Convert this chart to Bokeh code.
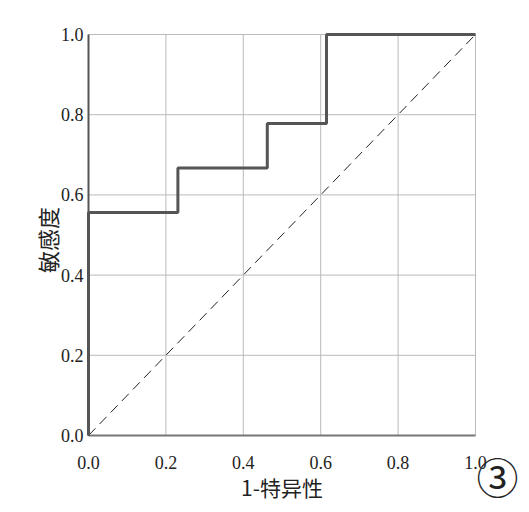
from math import pi

from bokeh.plotting import figure
from bokeh.models import Range1d
from bokeh.core.properties import value
from bokeh.embed import file_html
from bokeh.resources import INLINE

# ROC curve points
fpr = [0.0, 0.0, 0.231, 0.231, 0.462, 0.462, 0.615, 0.615, 1.0]
tpr = [0.0, 0.556, 0.556, 0.667, 0.667, 0.778, 0.778, 1.0, 1.0]
ref_x = [0.0, 1.0]
ref_y = [0.0, 1.0]
ticks = [0.0, 0.2, 0.4, 0.6, 0.8, 1.0]
tick_labels = [f"{t:.1f}" for t in ticks]
x_title = "1-特异性"
y_title = "敏感度"
panel_tag = "③"

serif = "Liberation Serif"
cjk = "Noto Sans CJK SC"

# canvas and plot box in pixels; axes, labels and the panel tag are drawn
# as glyphs so the tag can sit outside the data box like in the original
W, H = 525, 510
left, top, px_x, px_y = 88, 34, 387, 401
bottom = top + px_y

p = figure(frame_width=W, frame_height=H, output_backend="svg",
           toolbar_location=None, x_axis_location=None, y_axis_location=None,
           x_range=Range1d(-left / px_x, (W - left) / px_x),
           y_range=Range1d(-(H - bottom) / px_y, 1 + top / px_y),
           min_border=0)
p.background_fill_color = "white"
p.outline_line_color = None
p.grid.visible = False

n = len(ticks)
zeros = [0] * n
ones = [1] * n

# grid
p.segment(x0=ticks, y0=zeros, x1=ticks, y1=ones,
          line_color="#bbbbbb", line_width=1)
p.segment(x0=zeros, y0=ticks, x1=ones, y1=ticks,
          line_color="#bbbbbb", line_width=1)
# axis lines
p.line([0, 1], [0, 0], line_color="#777777", line_width=2)
p.line([0, 0], [0, 1], line_color="#555555", line_width=2)

p.line(ref_x, ref_y, line_color="#222222", line_width=1, line_dash="10 6")
p.line(fpr, tpr, line_color="#555555", line_width=3)

# tick labels
p.text(x=ticks, y=zeros, text=tick_labels, text_font=value(serif),
       text_font_size="18px", text_color="#222222", text_align="center",
       text_baseline="alphabetic", y_offset=27)
p.text(x=zeros, y=ticks, text=tick_labels, text_font=value(serif),
       text_font_size="18px", text_color="#222222", text_align="right",
       text_baseline="middle", x_offset=-5)

# axis titles
p.text(x=[0.5], y=[0], text=[x_title], text_font=value(cjk),
       text_font_size="21px", text_color="#222222", text_align="center",
       text_baseline="middle", y_offset=51)
p.text(x=[0], y=[0.5], text=[y_title], text_font=value(cjk),
       text_font_size="22px", text_color="#222222", text_align="center",
       text_baseline="middle", angle=pi / 2, x_offset=-42, y_offset=5)

p.text(x=[1], y=[0], text=[panel_tag], text_font=value(cjk),
       text_font_size="42px", text_color="#222222", text_align="center",
       text_baseline="middle", x_offset=22, y_offset=40)

open("out.html", "w").write(file_html(p, INLINE))
